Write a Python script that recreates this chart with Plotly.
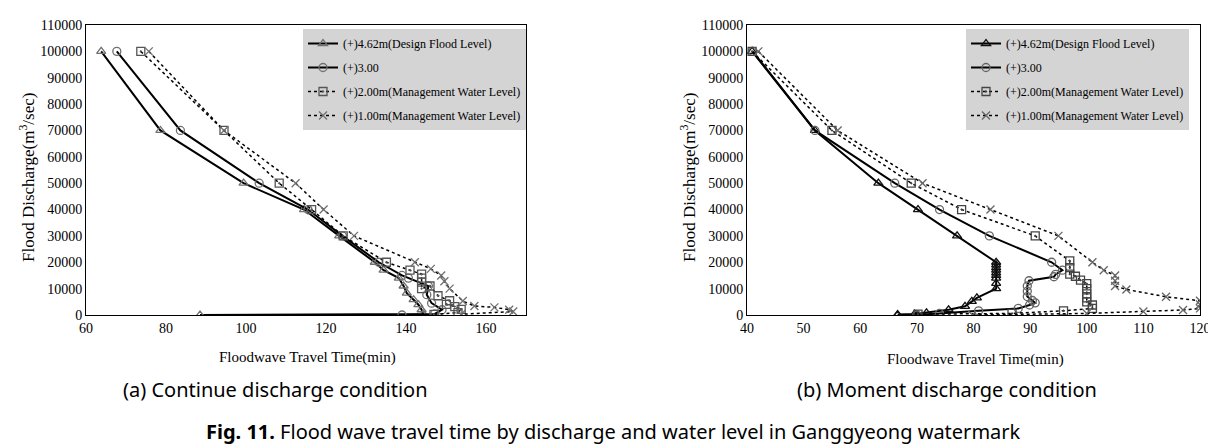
import plotly.graph_objects as go

# ---------------- data: (a) Continue discharge condition ----------------
a_t462 = [63.8, 78.6, 99.4, 114.5, 123.3, 132.2, 134.4, 138.2, 139.4, 140.2, 141.9, 143.1, 143.9, 144.3, 88.5]
a_q462 = [100000, 70000, 50000, 40000, 30000, 20000, 17000, 14000, 11000, 8300, 5800, 3900, 2000, 400, 0]

a_t300 = [67.7, 83.6, 103.3, 115.5, 124.1, 133.2, 139.0, 140.6, 145.6, 145.2, 146.4, 149.0, 147.2, 139.0]
a_q300 = [100000, 70000, 50000, 40000, 30000, 20000, 15000, 14000, 11000, 7700, 4500, 2000, 400, 0]

a_t200 = [73.7, 94.5, 108.3, 116.4, 124.3, 135.1, 141.0, 143.9, 143.9, 143.9, 143.9, 146.0, 148.0, 150.9, 150.1, 152.2, 153.8, 153.0, 147.0]
a_q200 = [100000, 70000, 50000, 40000, 30000, 20000, 17000, 15500, 14000, 12500, 10000, 11000, 7300, 5400, 4000, 3200, 2100, 900, 250]

a_t100 = [75.7, 94.5, 112.4, 119.4, 127.0, 142.2, 146.2, 148.8, 149.6, 150.9, 154.2, 157.1, 162.1, 165.8, 166.8, 153.8]
a_q100 = [100000, 70000, 50000, 40000, 30000, 20000, 17500, 15000, 12800, 10000, 5300, 3400, 2900, 2000, 1300, 300]

# ---------------- data: (b) Moment discharge condition ----------------
b_t462 = [40.9, 52.0, 63.2, 70.2, 77.1, 84.0, 84.0, 84.0, 84.0, 84.0, 84.0, 84.0, 84.0, 84.0, 80.6, 79.7, 78.5, 75.6, 71.7, 69.6, 66.6, 70.0, 66.6]
b_q462 = [100000, 70000, 50000, 40000, 30000, 20000, 19000, 18000, 17000, 16000, 15000, 14000, 12000, 10000, 6500, 5200, 3300, 2000, 800, 400, 200, 100, 0]

b_t300 = [41.0, 52.0, 66.1, 74.0, 82.8, 93.8, 95.7, 94.5, 94.2, 89.8, 89.5, 89.5, 89.5, 90.4, 90.9, 89.9, 87.9, 80.9, 74.0, 70.0]
b_q300 = [100000, 70000, 50000, 40000, 30000, 20000, 17000, 15400, 14500, 13000, 11000, 9000, 7000, 5500, 4600, 3800, 2500, 1600, 600, 0]

b_t200 = [40.9, 55.0, 69.0, 77.9, 90.9, 97.0, 97.0, 97.0, 98.0, 98.9, 100.0, 100.0, 100.0, 100.0, 100.0, 101.0, 101.0, 95.9, 86.8, 70.2]
b_q200 = [100000, 70000, 50000, 40000, 30000, 20500, 18000, 15500, 14700, 13200, 11900, 10000, 8000, 6500, 5000, 3800, 2500, 1600, 600, 300]

b_t100 = [42.0, 56.0, 71.0, 83.0, 95.0, 101.0, 103.0, 105.0, 105.0, 105.0, 107.0, 114.0, 120.0, 120.0, 120.0, 117.0, 110.0, 100.0, 79.8]
b_q100 = [100000, 70000, 50000, 40000, 30000, 20000, 17000, 15000, 13000, 11000, 9700, 6900, 5400, 4000, 2500, 1900, 1300, 600, 0]

series_names = ["(+)4.62m(Design Flood Level)", "(+)3.00",
                "(+)2.00m(Management Water Level)", "(+)1.00m(Management Water Level)"]

x_ticks_a = [60, 80, 100, 120, 140, 160]
x_ticks_b = [40, 50, 60, 70, 80, 90, 100, 110, 120]
y_ticks = [0, 10000, 20000, 30000, 40000, 50000, 60000, 70000, 80000, 90000, 100000, 110000]

SERIF = "Liberation Serif, Times New Roman, serif"
SANS = "Noto Sans, sans-serif"

styles = [
    dict(dash="solid", width=2.0, symbol="triangle-up-open", size=8),
    dict(dash="solid", width=2.0, symbol="circle-open", size=8),
    dict(dash="dot", width=1.5, symbol="square-open-dot", size=8),
    dict(dash="dot", width=1.5, symbol="x-thin-open", size=8),
]

fig = go.Figure()

def add_set(data, xa, ya, legend, mcolors, tag):
    for i, ((t, q), name, st, mc) in enumerate(zip(data, series_names, styles, mcolors)):
        fig.add_trace(go.Scatter(
            x=t, y=q, mode="lines+markers", name=name,
            xaxis=xa, yaxis=ya, legend=legend, legendgroup=f"{tag}{i}",
            line=dict(color="black", width=st["width"], dash=st["dash"]),
            marker=dict(symbol=st["symbol"], size=st["size"], color=mc,
                        line=dict(color=mc, width=1.3)),
        ))

add_set([(a_t462, a_q462), (a_t300, a_q300), (a_t200, a_q200), (a_t100, a_q100)],
        "x", "y", "legend", ["#707070", "#707070", "#555555", "#707070"], "a")
add_set([(b_t462, b_q462), (b_t300, b_q300), (b_t200, b_q200), (b_t100, b_q100)],
        "x2", "y2", "legend2", ["#111111", "#666666", "#444444", "#666666"], "b")

W, H = 1216, 445
def px(v):
    return v / W
def py(v):
    return 1 - v / H

axis_common = dict(showgrid=False, zeroline=False, showline=True, linecolor="black",
                   linewidth=1, mirror=True, ticks="", automargin=False,
                   tickfont=dict(family=SERIF, size=14, color="black"))

legend_common = dict(xanchor="left", yanchor="top", bgcolor="#d4d4d4", borderwidth=0,
                     font=dict(family=SERIF, size=12, color="black"), itemwidth=30,
                     tracegroupgap=5)

fig.update_layout(
    width=W, height=H, margin=dict(l=0, r=0, t=0, b=0, pad=0, autoexpand=False),
    paper_bgcolor="white", plot_bgcolor="white",
    xaxis=dict(domain=[px(78), px(518)], range=[60, 170], tickvals=x_ticks_a, anchor="y", **axis_common),
    yaxis=dict(domain=[py(307), py(17)], range=[0, 110000], tickvals=y_ticks, tickformat="d", anchor="x", **axis_common),
    xaxis2=dict(domain=[px(739), px(1192)], range=[40, 120], tickvals=x_ticks_b, anchor="y2", **axis_common),
    yaxis2=dict(domain=[py(307), py(17)], range=[0, 110000], tickvals=y_ticks, tickformat="d", anchor="x2", **axis_common),
    legend=dict(x=px(295), y=py(21), **legend_common),
    legend2=dict(x=px(958), y=py(21), **legend_common),
    showlegend=True,
)

annotations = [
    dict(text="Flood Discharge(m<sup>3</sup>/sec)", x=px(19), y=py(170), textangle=-90,
         font=dict(family=SERIF, size=17, color="black")),
    dict(text="Flood Discharge(m<sup>3</sup>/sec)", x=px(680), y=py(170), textangle=-90,
         font=dict(family=SERIF, size=17, color="black")),
    dict(text="Floodwave Travel Time(min)", x=px(299), y=py(349),
         font=dict(family=SERIF, size=15, color="black")),
    dict(text="Floodwave Travel Time(min)", x=px(967), y=py(351),
         font=dict(family=SERIF, size=15, color="black")),
    dict(text="(a) Continue discharge condition", x=px(267), y=py(381),
         font=dict(family=SANS, size=20, color="black")),
    dict(text="(b) Moment discharge condition", x=px(939), y=py(381),
         font=dict(family=SANS, size=20, color="black")),
    dict(text="<b>Fig. 11.</b> Flood wave travel time by discharge and water level in Ganggyeong watermark",
         x=px(605), y=py(423), font=dict(family=SANS, size=20, color="black")),
]
for a in annotations:
    a.update(xref="paper", yref="paper", showarrow=False, xanchor="center", yanchor="middle")
fig.update_layout(annotations=annotations)

fig.write_html("out.html")
